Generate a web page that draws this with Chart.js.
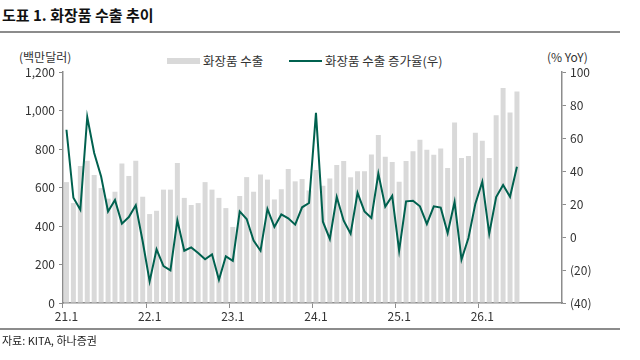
<!DOCTYPE html>
<html>
<head>
<meta charset="utf-8">
<script src="https://cdn.jsdelivr.net/npm/chart.js@4.4.1/dist/chart.umd.min.js"></script>
<style>
  body { margin: 0; background: #fff; font-family: "Noto Sans CJK KR", "Noto Sans", sans-serif; color: #222; }
  #wrap { position: relative; width: 640px; height: 360px; overflow: hidden; }
  #chart { position: absolute; left: 0; top: 0; }
  .abs { position: absolute; white-space: nowrap; }
  #title { left: 2px; top: 4px; font-size: 15px; font-weight: bold; color: #111; }
  .rule { position: absolute; left: 0; width: 620px; height: 2px; background: #8c8c8c; }
  #source { left: 2px; top: 332px; font-size: 11px; color: #222; }
  .axt { font-size: 12px; color: #333; }
  .leg { font-size: 12.5px; color: #333; }
</style>
</head>
<body>
<div id="wrap">
  <div id="title" class="abs">도표 1. 화장품 수출 추이</div>
  <div class="rule" style="top:31px"></div>
  <div class="abs axt" style="left:19px; top:48px">(백만달러)</div>
  <div class="abs axt" style="left:547px; top:48px">(% YoY)</div>
  <div class="abs" style="left:167px; top:58px; width:33px; height:6px; background:#d9d9d9"></div>
  <div class="abs leg" style="left:203px; top:51px">화장품 수출</div>
  <div class="abs" style="left:289px; top:60px; width:33px; height:2px; background:#00614f"></div>
  <div class="abs leg" style="left:325px; top:51px">화장품 수출 증가율(우)</div>
  <canvas id="chart" width="640" height="360"></canvas>
  <div class="rule" style="top:328px"></div>
  <div id="source" class="abs">자료: KITA, 하나증권</div>
</div>
<script>
// monthly labels 21.1 ~ 26.12 (data available through 26.6)
const years = [21, 22, 23, 24, 25, 26];
const labels = [];
years.forEach(y => { for (let m = 1; m <= 12; m++) labels.push(y + '.' + m); });

// 화장품 수출 (백만달러)
const exportValues = [
  628, 519, 712, 739, 665, 597, 542, 578, 725, 660, 739, 552,
  462, 479, 589, 589, 727, 546, 509, 519, 628, 589, 546, 493,
  395, 556, 654, 578, 667, 641, 538, 591, 696, 632, 644, 585,
  691, 609, 647, 717, 738, 653, 684, 684, 772, 873, 760, 733,
  630, 738, 788, 848, 796, 770, 803, 701, 938, 753, 764, 885,
  843, 753, 975, 1117, 990, 1099
];

// 화장품 수출 증가율 (% YoY, 우축)
const growthValues = [
  65.0, 23.8, 16.5, 72.7, 50.9, 36.7, 15.5, 22.4, 8.1, 12.1, 19.2, -2.7,
  -26.9, -7.5, -17.6, -20.2, 10.1, -8.3, -6.3, -9.7, -13.5, -10.5, -25.9, -11.7,
  -14.4, 15.5, 10.9, -2.2, -8.3, 17.0, 6.1, 13.7, 11.3, 7.5, 18.0, 20.6,
  75.2, 9.3, -1.2, 24.2, 9.9, 2.0, 26.7, 15.5, 11.5, 38.4, 18.4, 24.9,
  -8.3, 21.6, 22.0, 18.6, 7.9, 18.6, 17.8, 2.4, 21.2, -13.7, -0.6, 20.2,
  33.5, 2.0, 24.2, 31.5, 24.4, 42.6
];

const leftTicks = [0, 200, 400, 600, 800, 1000, 1200];
const rightTicks = [-40, -20, 0, 20, 40, 60, 80, 100];

const tickFont = { family: '"Noto Sans CJK KR", "Noto Sans", sans-serif', size: 12 };
const axisGrey = '#8c8c8c';

new Chart(document.getElementById('chart').getContext('2d'), {
  data: {
    labels: labels,
    datasets: [
      {
        type: 'line',
        label: '화장품 수출 증가율(우)',
        data: growthValues,
        yAxisID: 'y2',
        borderColor: '#00614f',
        borderWidth: 2,
        pointRadius: 0,
        tension: 0,
        order: 0
      },
      {
        type: 'bar',
        label: '화장품 수출',
        data: exportValues,
        yAxisID: 'y',
        backgroundColor: '#d9d9d9',
        barPercentage: 0.72,
        categoryPercentage: 1.0,
        order: 1
      }
    ]
  },
  options: {
    responsive: false,
    animation: false,
    layout: { padding: { left: 23, right: 28, top: 72, bottom: 35 } },
    plugins: { legend: { display: false }, tooltip: { enabled: false } },
    scales: {
      x: {
        offset: true,
        afterFit: s => { s.height = 22; },
        border: { color: axisGrey, width: 1.5 },
        grid: {
          offset: true,
          drawOnChartArea: false,
          tickLength: 5,
          color: ctx => (ctx.index % 12 === 0 && ctx.index < labels.length) ? axisGrey : 'rgba(0,0,0,0)'
        },
        ticks: {
          autoSkip: false,
          maxRotation: 0,
          padding: 1,
          color: '#333',
          font: tickFont,
          callback: (v, i) => i % 12 === 0 ? labels[i] : ''
        }
      },
      y: {
        position: 'left',
        min: 0,
        max: 1200,
        afterFit: s => { s.width = 40; },
        afterBuildTicks: s => { s.ticks = leftTicks.map(v => ({ value: v })); },
        border: { color: axisGrey, width: 1.5 },
        grid: { drawOnChartArea: false, tickLength: 4, color: axisGrey },
        ticks: {
          color: '#333',
          font: tickFont,
          padding: 4,
          callback: v => v.toLocaleString('en-US')
        }
      },
      y2: {
        position: 'right',
        min: -40,
        max: 100,
        afterFit: s => { s.width = 50; },
        afterBuildTicks: s => { s.ticks = rightTicks.map(v => ({ value: v })); },
        border: { color: axisGrey, width: 1.5 },
        grid: { drawOnChartArea: false, tickLength: 4, color: axisGrey },
        ticks: {
          color: '#333',
          font: tickFont,
          padding: 4,
          callback: v => v < 0 ? '(' + Math.abs(v) + ')' : String(v)
        }
      }
    }
  }
});
</script>
</body>
</html>
